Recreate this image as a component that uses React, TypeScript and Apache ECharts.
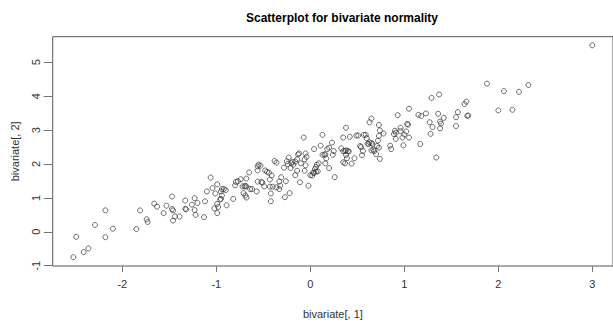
import { useEffect, useRef } from "react";
import * as echarts from "echarts";

const chartTitle = "Scatterplot for bivariate normality";
const xName = "bivariate[, 1]";
const yName = "bivariate[, 2]";
const xTicks = [-2, -1, 0, 1, 2, 3];
const yTicks = [-1, 0, 1, 2, 3, 4, 5];

const xValues = [
  -2.52, -2.49, -2.41, -2.36, -2.29, -2.18, -2.18, -2.1, -1.85, -1.81,
  -1.74, -1.73, -1.66, -1.63, -1.56, -1.53, -1.47, -1.47, -1.46, -1.46,
  -1.44, -1.39, -1.33, -1.33, -1.32, -1.26, -1.23, -1.23, -1.22, -1.2,
  -1.13, -1.12, -1.1, -1.06, -1.04, -1.02, -1.01, -0.99, -0.99, -0.99,
  -0.98, -0.96, -0.95, -0.95, -0.94, -0.94, -0.92, -0.9, -0.89, -0.82,
  -0.8, -0.79, -0.77, -0.74, -0.72, -0.7, -0.69, -0.68, -0.71, -0.69,
  -0.68, -0.68, -0.65, -0.64, -0.62, -0.57, -0.56, -0.56, -0.55, -0.53,
  -0.56, -0.52, -0.51, -0.49, -0.48, -0.46, -0.44, -0.43, -0.43, -0.42,
  -0.42, -0.41, -0.4, -0.38, -0.36, -0.36, -0.33, -0.33, -0.32, -0.31,
  -0.28, -0.27, -0.26, -0.25, -0.24, -0.23, -0.22, -0.21, -0.2, -0.19,
  -0.18, -0.16, -0.16, -0.14, -0.14, -0.13, -0.12, -0.11, -0.1, -0.07,
  -0.06, -0.06, -0.05, -0.05, -0.04, -0.02, 0.0, 0.02, 0.03, 0.04,
  0.06, 0.08, 0.04, 0.05, 0.06, 0.07, 0.09, 0.11, 0.13, 0.13,
  0.15, 0.16, 0.16, 0.17, 0.18, 0.2, 0.2, 0.23, 0.24, 0.25,
  0.26,
  0.33, 0.35, 0.35, 0.35, 0.37, 0.37, 0.38, 0.4, 0.41, 0.38,
  0.38, 0.39, 0.42, 0.44, 0.47, 0.49, 0.51, 0.53, 0.54, 0.55,
  0.56, 0.57, 0.59, 0.6, 0.61, 0.62, 0.63, 0.65, 0.66, 0.63,
  0.65, 0.65, 0.67, 0.68, 0.7, 0.71, 0.72, 0.73, 0.73, 0.73,
  0.74, 0.74, 0.78, 0.85, 0.86, 0.89, 0.9, 0.91, 0.91, 0.93,
  0.96, 0.96, 0.98, 0.99, 1.0, 1.02, 1.03, 1.04, 1.05, 1.05,
  1.15, 1.17, 1.18, 1.23, 1.27, 1.28, 1.29, 1.3, 1.34, 1.36,
  1.37, 1.38, 1.38, 1.39, 1.42, 1.55, 1.55, 1.57, 1.64, 1.66,
  1.67, 1.68, 1.88, 2.0, 2.06, 2.15, 2.22, 2.32, 3.0,
];

const yValues = [
  -0.75, -0.15, -0.6, -0.49, 0.2, 0.63, -0.16, 0.09, 0.08, 0.63,
  0.37, 0.29, 0.83, 0.74, 0.55, 0.77, 1.04, 0.67, 0.63, 0.33,
  0.45, 0.45, 0.92, 0.68, 0.66, 0.8, 0.99, 0.64, 0.5, 0.85,
  0.43, 0.9, 1.19, 1.6, 1.29, 0.69, 1.13, 0.82, 0.55, 1.4,
  0.73, 0.95, 0.97, 1.19, 1.26, 1.07, 1.26, 1.23, 0.78, 0.97,
  1.37, 1.47, 1.49, 1.55, 1.34, 1.34, 1.35, 1.34, 1.14, 1.07,
  1.01, 1.57, 1.75, 1.26, 1.26, 1.19, 1.48, 1.93, 1.98, 1.95,
  1.81, 1.47, 1.45, 1.34, 1.81, 1.77, 1.74, 1.33, 1.54, 1.13,
  0.9, 1.66, 1.33, 2.09, 2.04, 1.31, 1.26, 1.48, 1.36, 1.61,
  1.89, 1.02, 1.49, 2.08, 2.0, 2.19, 1.14, 1.88, 2.02, 2.06,
  1.98, 1.67, 2.07, 2.14, 1.8, 2.28, 2.31, 1.46, 2.02, 2.78,
  2.14, 1.8, 2.31, 1.96, 2.21, 1.36, 1.67, 1.66, 1.74, 1.74,
  1.77, 1.78, 2.44, 1.85, 1.91, 1.98, 2.02, 2.54, 2.86, 2.27,
  2.28, 2.28, 2.02, 2.16, 2.44, 2.48, 1.88, 2.63, 2.27, 2.38,
  1.61,
  2.46, 2.78, 2.38, 2.05, 2.02, 2.38, 2.4, 2.38, 2.37, 3.07,
  2.27, 2.17, 2.8, 2.01, 2.17, 2.84, 2.84, 2.53, 2.5, 2.26,
  2.38, 2.86, 2.86, 2.76, 2.6, 2.59, 2.64, 2.62, 2.59, 3.23,
  3.34, 2.4, 2.42, 2.38, 2.29, 2.53, 2.69, 2.83, 3.15, 2.48,
  2.15, 2.99, 2.9, 2.54, 2.44, 2.88, 2.98, 2.74, 2.92, 3.44,
  3.07, 2.97, 2.78, 2.55, 2.87, 2.96, 3.18, 3.16, 3.63, 2.78,
  3.45, 2.59, 3.42, 3.49, 3.23, 2.89, 3.95, 3.09, 2.19, 3.48,
  4.05, 3.25, 3.05, 3.19, 3.36, 3.38, 3.12, 3.53, 3.77, 3.84,
  3.42, 3.43, 4.37, 3.58, 4.15, 3.6, 4.13, 4.33, 5.5,
];

const FONT = "'Liberation Sans Narrow', 'Liberation Sans', Arial, sans-serif";

export default function App() {
  const ref = useRef<HTMLDivElement>(null);

  useEffect(() => {
    if (!ref.current) return;
    const chart = echarts.init(ref.current, null, { renderer: "svg" });
    const points = xValues.map((x, i) => [x, yValues[i]]);
    chart.setOption({
      animation: false,
      backgroundColor: "#ffffff",
      title: {
        text: chartTitle,
        left: 337,
        textAlign: "center",
        top: 7,
        textStyle: {
          fontFamily: FONT,
          fontSize: 12,
          fontWeight: "bold",
          color: "#000",
        },
      },
      grid: {
        left: 52.7,
        right: -4,
        top: 36.7,
        bottom: 51.3,
        show: true,
        borderColor: "#555",
        borderWidth: 1,
        backgroundColor: "transparent",
      },
      xAxis: {
        type: "value",
        position: "bottom",
        min: -2.74,
        max: 3.22,
        name: xName,
        nameLocation: "middle",
        nameGap: 42,
        nameTextStyle: { fontFamily: FONT, fontSize: 11, color: "#333" },
        axisLine: { show: false, onZero: false },
        splitLine: { show: false },
        axisTick: {
          show: true,
          customValues: xTicks,
          length: 6,
          lineStyle: { color: "#777", width: 1 },
        },
        axisLabel: {
          customValues: xTicks,
          showMinLabel: true,
          showMaxLabel: true,
          margin: 12,
          fontFamily: FONT,
          fontSize: 11,
          color: "#333",
        },
      },
      yAxis: {
        type: "value",
        position: "left",
        min: -1.01,
        max: 5.755,
        name: yName,
        nameLocation: "middle",
        nameRotate: 90,
        nameGap: 32,
        nameTextStyle: { fontFamily: FONT, fontSize: 11, color: "#333" },
        axisLine: { show: false, onZero: false },
        splitLine: { show: false },
        axisTick: {
          show: true,
          customValues: yTicks,
          length: 9,
          lineStyle: { color: "#777", width: 1 },
        },
        axisLabel: {
          customValues: yTicks,
          showMinLabel: true,
          showMaxLabel: true,
          hideOverlap: false,
          rotate: 90,
          margin: 11,
          fontFamily: FONT,
          fontSize: 11,
          color: "#333",
        },
      },
      series: [
        {
          type: "scatter",
          data: points,
          symbol: "circle",
          symbolSize: 5,
          itemStyle: {
            color: "rgba(255,255,255,0)",
            borderColor: "#333",
            borderWidth: 0.9,
          },
        },
      ],
    });
    return () => chart.dispose();
  }, []);

  return (
    <div
      ref={ref}
      style={{
        position: "absolute",
        left: 0,
        top: 0,
        width: 613,
        height: 324,
        background: "#fff",
      }}
    />
  );
}
